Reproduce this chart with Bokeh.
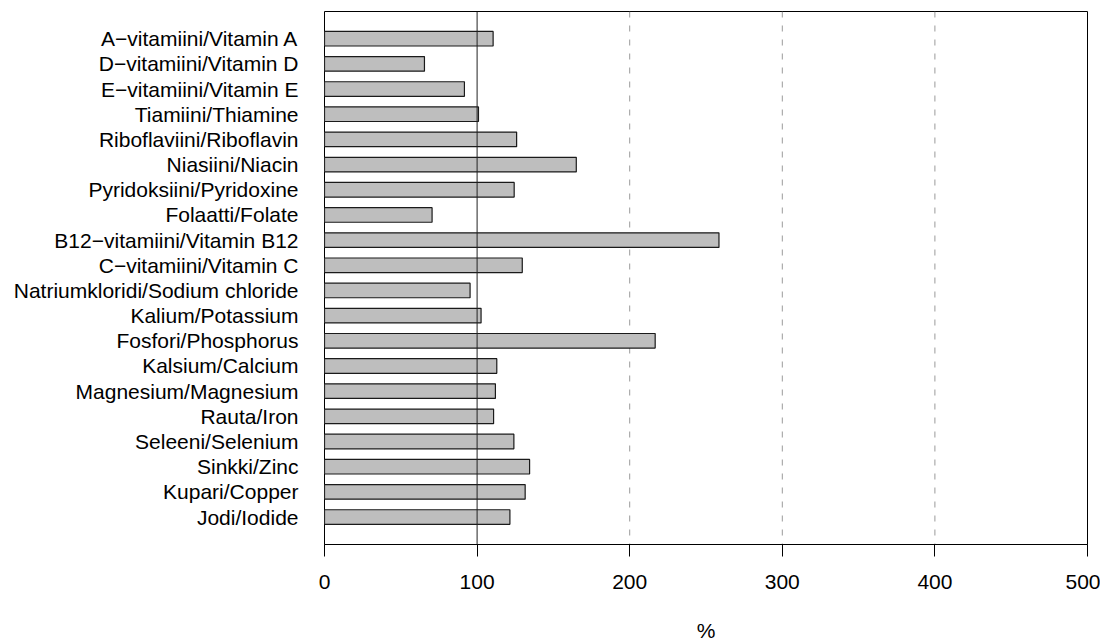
from bokeh.plotting import figure
from bokeh.models import Range1d, FixedTicker, Span, ColumnDataSource
from bokeh.embed import file_html
from bokeh.resources import INLINE

categories = [
    "A−vitamiini/Vitamin A", "D−vitamiini/Vitamin D", "E−vitamiini/Vitamin E",
    "Tiamiini/Thiamine", "Riboflaviini/Riboflavin", "Niasiini/Niacin",
    "Pyridoksiini/Pyridoxine", "Folaatti/Folate", "B12−vitamiini/Vitamin B12",
    "C−vitamiini/Vitamin C", "Natriumkloridi/Sodium chloride", "Kalium/Potassium",
    "Fosfori/Phosphorus", "Kalsium/Calcium", "Magnesium/Magnesium", "Rauta/Iron",
    "Seleeni/Selenium", "Sinkki/Zinc", "Kupari/Copper", "Jodi/Iodide",
]
values = [110.5, 65.5, 91.7, 100.9, 125.9, 165.0, 124.3, 70.5, 258.5, 129.6,
          95.4, 102.6, 216.7, 112.9, 112.0, 110.8, 124.1, 134.4, 131.5, 121.5]
x_ticks = [0, 100, 200, 300, 400, 500]
dashed_refs = [200, 300, 400]
solid_ref = 100
x_label = "%"

n = len(categories)
ypos = [n - 1 - i for i in range(n)]
src = ColumnDataSource(dict(y=ypos, v=values, name=categories))

FONT = "Liberation Sans"

p = figure(width=1100, height=644, output_backend="svg", toolbar_location=None,
           x_range=Range1d(0, 500), y_range=Range1d(-1.09, n - 1 + 1.08),
           min_border_left=324, min_border_right=13, min_border_top=11,
           min_border_bottom=99)
p.background_fill_color = "white"
p.border_fill_color = "white"
p.outline_line_color = "black"
p.outline_line_width = 1
p.grid.visible = False

for xv in dashed_refs:
    p.add_layout(Span(location=xv, dimension="height", line_color="#9a9a9a",
                      line_width=1, line_dash="6 8", level="underlay"))

p.hbar(y="y", left=0, right="v", height=0.58, source=src,
       fill_color="#bebebe", line_color="#1a1a1a", line_width=1.2)

p.add_layout(Span(location=solid_ref, dimension="height", line_color="#222222",
                  line_width=1, level="overlay"))

xa = p.xaxis[0]
xa.ticker = FixedTicker(ticks=x_ticks)
xa.major_tick_out = 12
xa.major_tick_in = 0
xa.minor_tick_line_color = None
xa.axis_line_color = "black"
xa.major_tick_line_color = "black"
xa.major_label_text_font = FONT
xa.major_label_text_font_size = "21px"
xa.major_label_text_color = "black"
xa.major_label_standoff = 18
xa.axis_label = x_label
xa.axis_label_text_font = FONT
xa.axis_label_text_font_size = "21px"
xa.axis_label_text_font_style = "normal"
xa.axis_label_text_color = "black"
xa.axis_label_standoff = 27

ya = p.yaxis[0]
ya.ticker = FixedTicker(ticks=ypos)
ya.major_label_overrides = {y: c for y, c in zip(ypos, categories)}
ya.major_tick_line_color = None
ya.minor_tick_line_color = None
ya.axis_line_color = None
ya.major_label_text_font = FONT
ya.major_label_text_font_size = "21px"
ya.major_label_text_color = "black"
ya.major_label_standoff = 20

open("out.html", "w").write(file_html(p, INLINE))
